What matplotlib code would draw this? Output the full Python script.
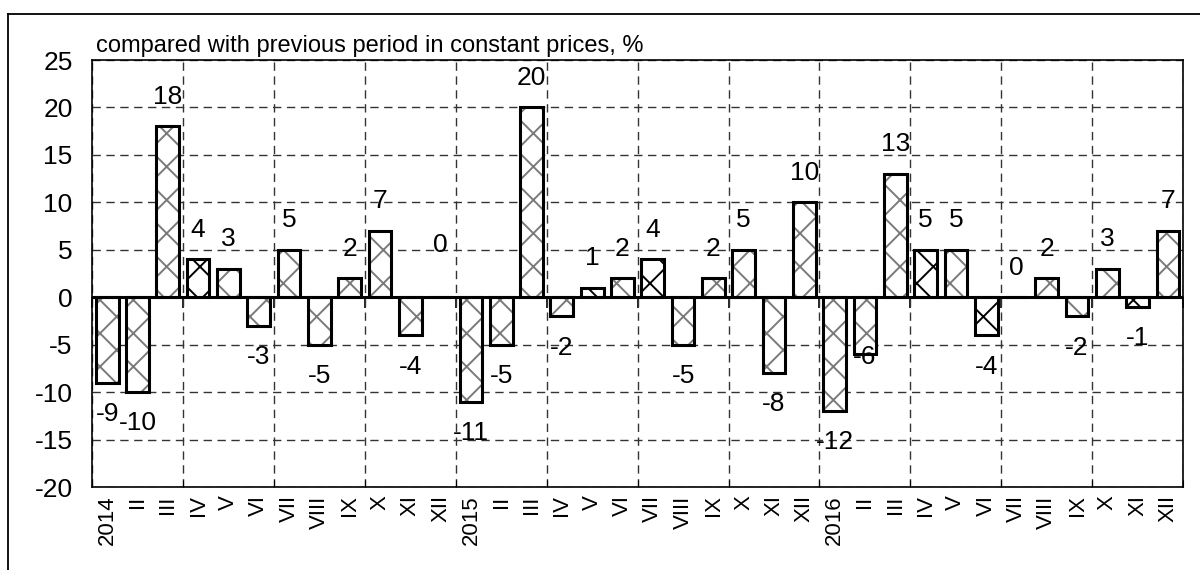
import numpy as np
import matplotlib.pyplot as plt
from matplotlib.lines import Line2D

plt.rcParams['font.family'] = ['Liberation Sans', 'DejaVu Sans']
plt.rcParams['axes.unicode_minus'] = False
plt.rcParams['hatch.linewidth'] = 1.4

# data: monthly change vs previous period, %
months = ['II', 'III', 'IV', 'V', 'VI', 'VII', 'VIII', 'IX', 'X', 'XI', 'XII']
years = ['2014', '2015', '2016']
labels = [m for y in years for m in [y] + months]
values = [-9, -10, 18, 4, 3, -3, 5, -5, 2, 7, -4, 0,
          -11, -5, 20, -2, 1, 2, 4, -5, 2, 5, -8, 10,
          -12, -6, 13, 5, 5, -4, 0, 2, -2, 3, -1, 7]
highlight = [3, 16, 18, 27, 29, 34]  # bars with the darker pattern

x = np.arange(len(values))
vals = np.array(values)

fig = plt.figure(figsize=(12, 5.7), dpi=100)
ax = fig.add_axes([0.0767, 0.1456, 0.9093, 0.7491])

hatch_cols = ['black' if i in highlight else '#7a7a7a' for i in x]
ax.bar(x, vals, width=0.75, color='white', edgecolor=hatch_cols, hatch='x',
       linewidth=0, zorder=3)
ax.bar(x, vals, width=0.75, fill=False, edgecolor='black', linewidth=2.2, zorder=4)
ax.axhline(0, color='black', lw=2.2, zorder=5)

# value labels
nudge = {11: 8.8, 25: 3.0}
for i, v in enumerate(values):
    if v > 0 or (v == 0 and i != 11):
        yy = v + 3.1
    else:
        yy = v - 3.3
    yy += nudge.get(i, 0)
    ax.text(i, yy, str(v), ha='center', va='center', fontsize=19, zorder=6)

ax.set_xlim(-0.5, len(values) - 0.5)
ax.set_ylim(-20, 25)
ax.set_yticks(np.arange(-20, 26, 5))
ax.tick_params(axis='y', length=0, pad=14, labelsize=19)

bounds = np.arange(-0.5, len(values), 3)
ax.set_xticks(bounds)
ax.set_xticks(x, labels, minor=True, rotation=90)
ax.tick_params(axis='x', which='major', direction='in', length=5, labelbottom=False)
ax.tick_params(axis='x', which='minor', length=0, pad=6, labelsize=16)

ax.grid(True, which='major', color='#333333', linestyle=(0, (6, 4)), linewidth=1, zorder=0)
ax.set_axisbelow(True)
for s in ax.spines.values():
    s.set_linewidth(1.2)

# ticks on the zero line
sec = ax.secondary_xaxis(20 / 45)
sec.set_xticks(bounds)
sec.tick_params(direction='out', length=8, width=1.2, labelbottom=False, labeltop=False)
sec.spines['bottom'].set_visible(False)
sec.spines['top'].set_visible(False)

ax.text(0.004, 1.008, 'compared with previous period in constant prices, %',
        transform=ax.transAxes, ha='left', va='bottom', fontsize=17)

# outer frame (top and left)
fig.add_artist(Line2D([0.0067, 1.0], [0.9754, 0.9754], color='black', lw=1.3))
fig.add_artist(Line2D([0.0067, 0.0067], [0.0, 0.9754], color='black', lw=1.3))

fig.savefig('out.png', dpi=100)
